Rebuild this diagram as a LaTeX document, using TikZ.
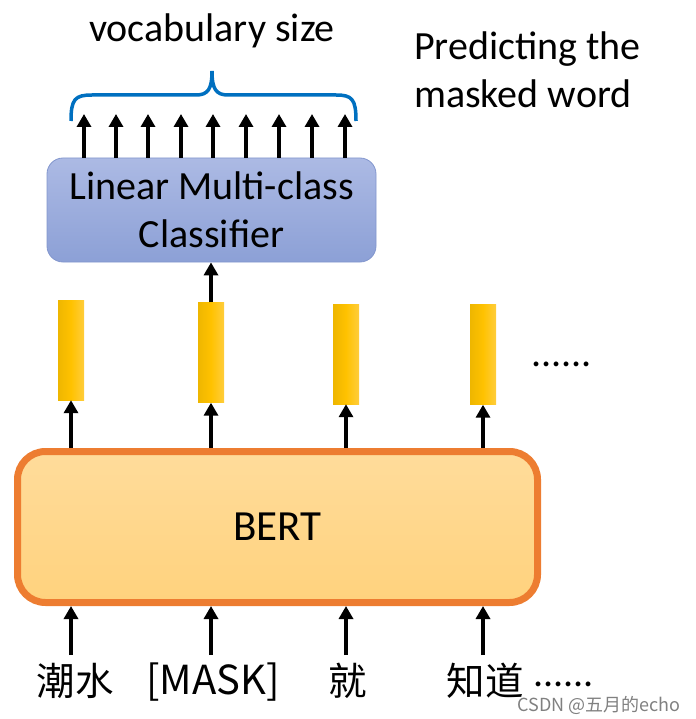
\documentclass[tikz,border=0pt]{standalone}
\usepackage{fontspec}
\setmainfont{Carlito}
\newfontfamily\cjk{Noto Sans CJK SC}
\usetikzlibrary{arrows.meta}
\definecolor{bracecol}{RGB}{0,112,192}
\definecolor{bertedge}{RGB}{237,125,49}
\definecolor{berttop}{RGB}{255,220,155}
\definecolor{bertbot}{RGB}{255,210,125}
\definecolor{clstop}{RGB}{172,186,228}
\definecolor{clsbot}{RGB}{140,160,214}
\definecolor{clsedge}{RGB}{130,150,205}
\definecolor{vecl}{RGB}{238,182,0}
\definecolor{vecm}{RGB}{255,194,0}
\definecolor{vecr}{RGB}{255,205,60}
\begin{document}
\begin{tikzpicture}[x=1pt,y=-1pt,
  arr/.style={line width=3.8pt,-{Triangle[width=14pt,length=13pt]}},
  vecbox/.style={rectangle,minimum width=26pt,minimum height=100pt,inner sep=0pt,
     left color=vecl,right color=vecr,middle color=vecm},
  big/.style={font=\fontsize{40}{48}\selectfont},
  dotrow/.style={big,anchor=base west,inner sep=0pt,text height=5pt,text depth=0pt},
  lbl/.style={font=\cjk\fontsize{38.5}{48}\selectfont,anchor=base,inner sep=0pt}]
\useasboundingbox (0,0) rectangle (695,719);

% title texts
\node[big,anchor=base,inner sep=0pt] (voc) at (212,42) {vocabulary size};
\node[big,anchor=north west,align=left,inner sep=0pt] (pred) at (414,32) {Predicting the\\masked word};

% classifier
\node[rectangle,rounded corners=16pt,minimum width=329pt,minimum height=104pt,
  top color=clstop,bottom color=clsbot,draw=clsedge,line width=0.8pt,
  big,align=center] (cls) at (211.5,210) {Linear Multi-class\\Classifier};

% output arrows and brace
\foreach \i/\x in {1/84,2/116,3/148,4/181,5/213,6/246,7/279,8/312,9/345}{
  \coordinate (o\i) at (\x,114);
  \draw[arr] (o\i |- cls.north) -- (o\i);
}
\draw[bracecol,line width=3.5pt]
  (71,121) .. controls (71,99) and (75,95) .. (92,95) -- (196,95)
  .. controls (208,95) and (212,89) .. (212,71)
  .. controls (212,89) and (216,95) .. (228,95) -- (336,95)
  .. controls (352,95) and (356,99) .. (356,121);

% vectors
\node[vecbox] (v1) at (71,350) {};
\node[vecbox] (v2) at (211,352.5) {};
\node[vecbox] (v3) at (346,354) {};
\node[vecbox] (v4) at (483,354.5) {};
\node[dotrow] (dots) at (531,366) {......};

\draw[arr] (v2.north) -- (v2.north |- cls.south);

% BERT
\node[rectangle,rounded corners=28pt,minimum width=520pt,minimum height=151pt,
  top color=berttop,bottom color=bertbot,draw=bertedge,line width=7pt,
  font=\fontsize{43}{48}\selectfont] (bert) at (277.5,527) {BERT};

\coordinate (btop) at (0,448);
\coordinate (bbot) at (0,606);
\coordinate (ibase) at (0,655);

\foreach \v in {v1,v2,v3,v4}{
  \draw[arr] (\v.south |- btop) -- (\v.south);
}

% inputs
\node[lbl] (t1) at (75,695) {潮水};
\node[lbl,font=\cjk\fontsize{40}{48}\selectfont] (t2) at (213,694) {[MASK]};
\node[lbl] (t3) at (348,695) {就};
\node[lbl] (t4) at (485,695) {知道};
\node[dotrow] (t5) at (533,686) {......};

\foreach \v in {v1,v2,v3,v4}{
  \draw[arr] (\v.south |- ibase) -- (\v.south |- bbot);
}

% watermark
\node[anchor=base east,inner sep=0pt,text height=13pt,text depth=2pt,text=black!50,font=\cjk\fontsize{18}{20}\selectfont] (wm) at (681,711) {CSDN @五月的echo};
\end{tikzpicture}
\end{document}
